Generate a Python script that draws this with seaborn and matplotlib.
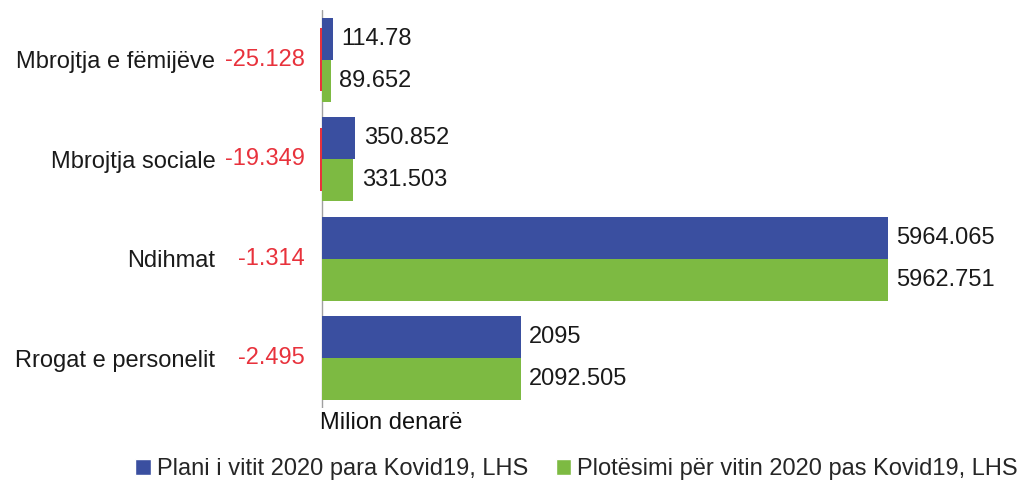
import numpy as np
import pandas as pd
import matplotlib
matplotlib.use("Agg")
import matplotlib.pyplot as plt
import matplotlib.transforms as mtransforms
from matplotlib.patches import Patch
import seaborn as sns

# data
categories = ["Mbrojtja e fëmijëve", "Mbrojtja sociale", "Ndihmat", "Rrogat e personelit"]
plan_2020 = [114.78, 350.852, 5964.065, 2095]
real_2020 = [89.652, 331.503, 5962.751, 2092.505]
difference = [-25.128, -19.349, -1.314, -2.495]
plan_labels = ["114.78", "350.852", "5964.065", "2095"]
real_labels = ["89.652", "331.503", "5962.751", "2092.505"]
diff_labels = ["-25.128", "-19.349", "-1.314", "-2.495"]
series_names = ["Plani i vitit 2020 para Kovid19, LHS",
                "Plotësimi për vitin 2020 pas Kovid19, LHS"]

BLUE = "#3a4fa0"
GREEN = "#7dba42"
RED = "#e8323c"
FS = 17

sns.set_style("white")
plt.rcParams["font.family"] = ["Liberation Sans", "DejaVu Sans"]

df = pd.DataFrame({
    "cat": categories * 2,
    "val": plan_2020 + real_2020,
    "series": [series_names[0]] * 4 + [series_names[1]] * 4,
})
df_diff = pd.DataFrame({"cat": categories, "val": difference})

fig = plt.figure(figsize=(10.17, 4.83), dpi=100)
ax = fig.add_axes([300 / 1017, 1 - 408 / 483, 700 / 1017, 398 / 483])

sns.barplot(data=df, y="cat", x="val", hue="series", order=categories,
            hue_order=series_names, palette=[BLUE, GREEN], width=0.84,
            orient="h", ax=ax, legend=False, saturation=1,
            edgecolor="none", linewidth=0)
sns.barplot(data=df_diff, y="cat", x="val", order=categories, color=RED,
            width=0.63, orient="h", ax=ax, saturation=1,
            edgecolor="none", linewidth=0)

ax.set_xlim(-232, 7144)
ax.set_ylim(3.5, -0.5)
for s in ax.spines.values():
    s.set_visible(False)
ax.set_xticks([])
ax.set_xlabel("")
ax.set_ylabel("")
ax.axvline(0, color="#a0a0a0", lw=1, zorder=0)

ax.tick_params(axis="y", length=0, pad=61, labelsize=FS, labelcolor="#1a1a1a")

ax.bar_label(ax.containers[0], labels=plan_labels, padding=6, fontsize=FS, color="#1a1a1a")
ax.bar_label(ax.containers[1], labels=real_labels, padding=6, fontsize=FS, color="#1a1a1a")

trans = mtransforms.blended_transform_factory(ax.transAxes, ax.transData)
for i, lab in enumerate(diff_labels):
    ax.text(0.007, i, lab, transform=trans, ha="right", va="center",
            fontsize=FS, color=RED)

fig.text(320 / 1017, 1 - 423 / 483, "Milion denarë", ha="left", va="center",
         fontsize=FS, color="#111111")

handles = [Patch(facecolor=BLUE, label=series_names[0]),
           Patch(facecolor=GREEN, label=series_names[1])]
fig.legend(handles=handles, loc="center", bbox_to_anchor=(0.567, 0.028), ncol=2,
           frameon=False, fontsize=FS, handlelength=0.65, handleheight=0.65,
           handletextpad=0.25, columnspacing=1.2)

fig.savefig("out.png", dpi=100)
